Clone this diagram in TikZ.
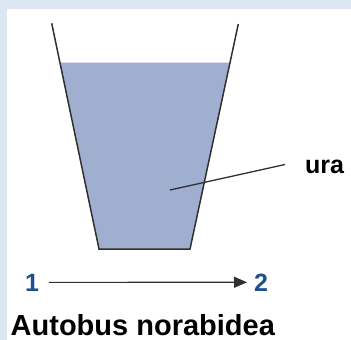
\documentclass[tikz,border=0pt]{standalone}
\usepackage{fontspec}
\setmainfont{Liberation Sans}
\usetikzlibrary{arrows.meta}
\definecolor{bgblue}{HTML}{DCE6F2}
\definecolor{water}{HTML}{A0AFCF}
\definecolor{numblue}{HTML}{1F4F8F}
\definecolor{linegray}{HTML}{303030}
\tikzset{
  cupline/.style={draw=linegray, line width=1.5pt},
  numlabel/.style={inner sep=0pt, anchor=base west, text=numblue, font=\bfseries\fontsize{25}{25}\selectfont},
  txtlabel/.style={inner sep=0pt, anchor=base west, text=black, font=\bfseries\fontsize{25}{25}\selectfont}
}
\begin{document}
\begin{tikzpicture}[x=1pt,y=-1pt]
\useasboundingbox (0,0) rectangle (351,340);
\fill[bgblue] (0,0) rectangle (351,340);
\fill[white] (7,9) rectangle (351,340);
% water
\fill[water] (59.9,62.7) -- (230,62.7) -- (190,249) -- (99,249) -- cycle;
% cup
\coordinate (tl) at (51.7,23.3);
\coordinate (bl) at (99,249);
\coordinate (br) at (190,249);
\coordinate (tr) at (238.3,24);
\draw[cupline] (tl) -- (bl) -- (br) -- (tr);
% label
\node[txtlabel] (ura) at (305,173) {ura};
\coordinate (pt) at (170,190);
\coordinate (le) at (285,164.5);
\draw[draw=linegray, line width=1.3pt] (pt) -- (le);
% arrow
\node[numlabel] (n1) at (25,291) {1};
\node[numlabel] (n2) at (254,291) {2};
\draw[draw=linegray, line width=1.2pt, shorten <=9.5pt, shorten >=7pt, -{Triangle[length=13pt,width=11pt]}] (n1.east) -- (n2.west);
% caption
\node[txtlabel, font=\bfseries\fontsize{29}{29}\selectfont] (cap) at (10.5,335) {Autobus norabidea};
\end{tikzpicture}
\end{document}
